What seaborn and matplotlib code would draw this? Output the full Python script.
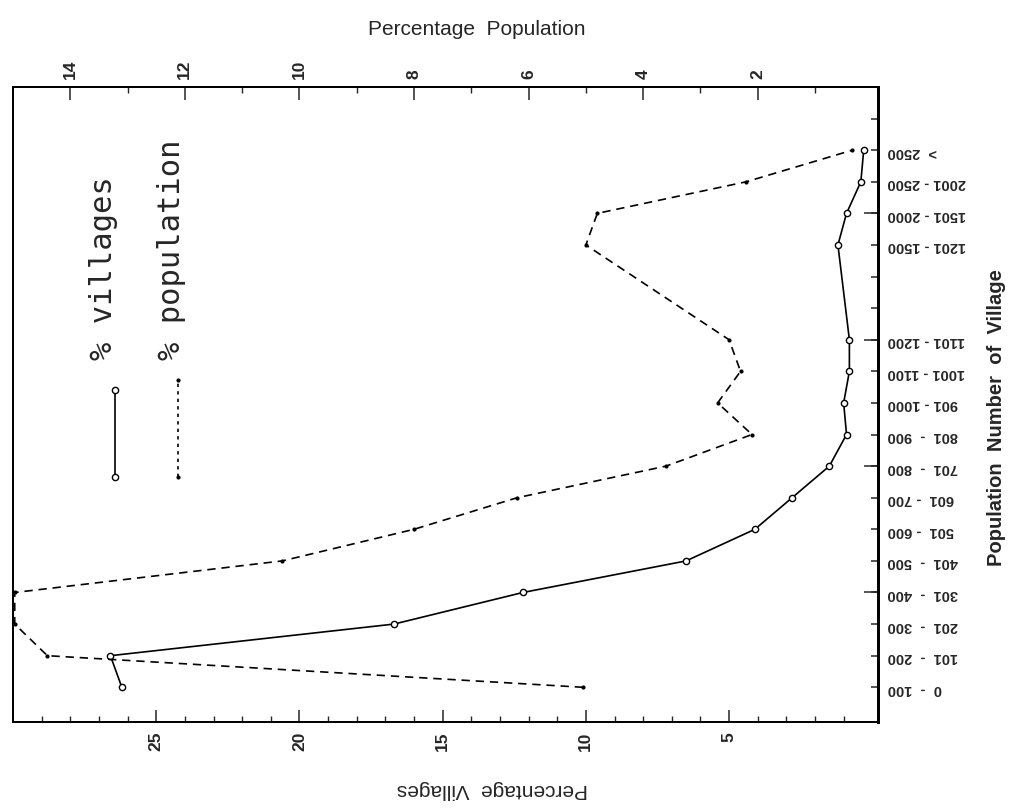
import numpy as np
import pandas as pd
import matplotlib
matplotlib.use("Agg")
import matplotlib.pyplot as plt
import seaborn as sns

sns.set_theme(style="ticks")
plt.rcParams["font.family"] = ["Liberation Sans", "DejaVu Sans"]

# ========== Data ==========
# size classes along the (rotated) category axis, "" = unlabelled tick
size_classes = ["0  -  100", "101  -  200", "201  -  300", "301  -  400", "401  -  500",
                "501  - 600", "601  - 700", "701  -  800", "801  -  900", "901 - 1000",
                "1001 - 1100", "1101 - 1200", "", "", "1201 - 1500",
                "1501 - 2000", "2001 - 2500", ">  2500", ""]
classes_with_data = [c for c in size_classes if c]
pct_villages = [26.2, 26.6, 16.7, 12.2, 6.5, 4.1, 2.8, 1.5, 0.9, 1.0,
                0.8, 0.8, 1.2, 0.9, 0.4, 0.3]
pct_population = [5.05, 14.4, 14.97, 14.97, 10.3, 8.0, 6.2, 3.6, 2.1, 2.7,
                  2.3, 2.5, 5.0, 4.8, 2.2, 0.35]
villages_ticks = [5, 10, 15, 20, 25]
population_ticks = [2, 4, 6, 8, 10, 12, 14]
long_ticks = [3, 7, 11, 15]

df = pd.DataFrame({"size_class": classes_with_data,
                   "villages": pct_villages,
                   "population": pct_population})
class_pos = {c: i for i, c in enumerate(size_classes) if c}
df["pos"] = df["size_class"].map(class_pos)

# ========== Figure ==========
fig = plt.figure(figsize=(10.16, 8.10), dpi=100)
ax = fig.add_axes([0.0128, 0.1086, 0.8514, 0.7840])
ax2 = ax.twiny()

sns.lineplot(data=df, x="villages", y="pos", orient="y", sort=False, estimator=None,
             color="black", linewidth=1.2, marker="o", markersize=4.5,
             markerfacecolor="white", markeredgecolor="black", markeredgewidth=1.0,
             ax=ax)
sns.lineplot(data=df, x="population", y="pos", orient="y", sort=False, estimator=None,
             color="black", linewidth=1.2, linestyle=(0, (5, 3.5)), marker="o",
             markersize=3, markeredgewidth=0, ax=ax2)

ax.set_xlim(30, -0.2)
ax2.set_xlim(15, -0.1)
ax.set_ylim(-1.1, 19.0)

# ----- bottom axis: % villages -----
ax.set_xticks(villages_ticks)
ax.set_xticklabels([str(v) for v in villages_ticks], rotation=90,
                   fontsize=12.5, fontweight="bold")
ax.set_xticks(range(1, 30), minor=True)
ax.tick_params(axis="x", which="major", direction="in", length=9, width=1.1, pad=7)
ax.tick_params(axis="x", which="minor", direction="in", length=4.5, width=1.0)
ax.set_xlabel("Percentage  Villages", fontsize=15, rotation=180)
ax.xaxis.set_label_coords(0.554, -0.107)
ax.xaxis.label.set_va("center")

# ----- top axis: % population -----
ax2.set_xticks(population_ticks)
ax2.set_xticklabels([str(v) for v in population_ticks], rotation=90,
                    fontsize=12.5, fontweight="bold")
ax2.set_xticks(range(1, 15), minor=True)
ax2.tick_params(axis="x", which="major", direction="in", length=9, width=1.1, pad=6)
ax2.tick_params(axis="x", which="minor", direction="in", length=4.5, width=1.0)
ax2.set_xlabel("Percentage  Population", fontsize=15)
ax2.xaxis.set_label_coords(0.536, 1.09)
ax2.xaxis.label.set_va("center")

# ----- right axis: size classes -----
ax.yaxis.tick_right()
ax.yaxis.remove_overlapping_locs = False
ax.set_yticks(range(len(size_classes)))
ax.set_yticklabels(size_classes, rotation=180, fontsize=10.5, fontweight="bold")
ax.set_yticks(long_ticks, minor=True)
ax.tick_params(axis="y", which="major", direction="in", length=5, width=1.1, pad=7,
               left=False, labelleft=False)
ax.tick_params(axis="y", which="minor", direction="in", length=10, width=1.1,
               left=False, labelleft=False)
ax.set_ylabel("Population  Number  of  Village", fontsize=14.5, fontweight="bold",
              rotation=90)
ax.yaxis.set_label_position("right")
ax.yaxis.set_label_coords(1.137, 0.479)
ax.yaxis.label.set_va("center")
ax.yaxis.label.set_rotation_mode("default")

for a in (ax, ax2):
    for s in a.spines.values():
        s.set_linewidth(1.3)
        s.set_color("black")
ax.spines["right"].set_linewidth(2.0)
ax2.spines["right"].set_linewidth(2.0)

# ----- legend, drawn rotated like the rest -----
ax.text(0.105, 0.570, "% villages", transform=ax.transAxes, rotation=90,
        ha="center", va="bottom", family="DejaVu Sans Mono", fontsize=22)
ax.text(0.183, 0.570, "% population", transform=ax.transAxes, rotation=90,
        ha="center", va="bottom", family="DejaVu Sans Mono", fontsize=22)
ax.plot([0.118, 0.118], [0.386, 0.523], transform=ax.transAxes, color="black",
        linewidth=1.2, marker="o", markersize=4.5, markerfacecolor="white")
ax.plot([0.191, 0.191], [0.386, 0.539], transform=ax.transAxes, color="black",
        linewidth=1.2, linestyle=(0, (2, 2.5)), marker="o", markersize=3,
        markeredgewidth=0)

fig.savefig("out.png", dpi=100)
